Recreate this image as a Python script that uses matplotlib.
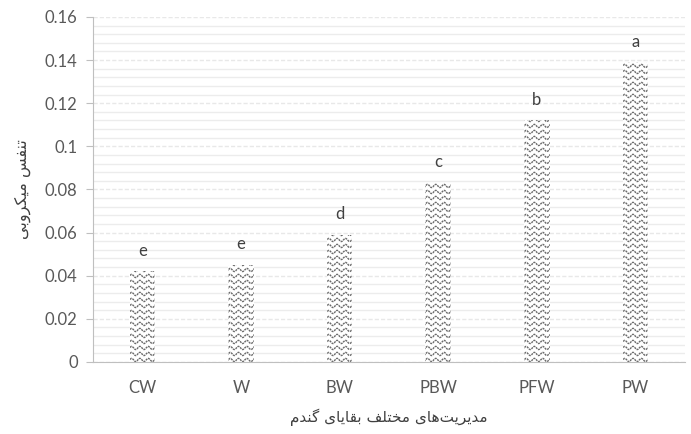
import numpy as np
import matplotlib.pyplot as plt
from matplotlib.ticker import MultipleLocator

# treatments and mean respiration values
treatments = ['CW', 'W', 'BW', 'PBW', 'PFW', 'PW']
respiration = [0.042, 0.045, 0.059, 0.083, 0.112, 0.139]
groups = ['e', 'e', 'd', 'c', 'b', 'a']

ylabel_fa = 'تنفس میکروبی'
xlabel_fa = 'مدیریت\u200cهای مختلف بقایای گندم'

# minimal persian shaping (matplotlib has no complex text layout)
FORMS = {
    'ا': ('\uFE8D', '\uFE8E', None, None),
    'ب': ('\uFE8F', '\uFE90', '\uFE91', '\uFE92'),
    'ت': ('\uFE95', '\uFE96', '\uFE97', '\uFE98'),
    'خ': ('\uFEA5', '\uFEA6', '\uFEA7', '\uFEA8'),
    'د': ('\uFEA9', '\uFEAA', None, None),
    'ر': ('\uFEAD', '\uFEAE', None, None),
    'س': ('\uFEB1', '\uFEB2', '\uFEB3', '\uFEB4'),
    'ف': ('\uFED1', '\uFED2', '\uFED3', '\uFED4'),
    'ق': ('\uFED5', '\uFED6', '\uFED7', '\uFED8'),
    'ل': ('\uFEDD', '\uFEDE', '\uFEDF', '\uFEE0'),
    'م': ('\uFEE1', '\uFEE2', '\uFEE3', '\uFEE4'),
    'ن': ('\uFEE5', '\uFEE6', '\uFEE7', '\uFEE8'),
    'ه': ('\uFEE9', '\uFEEA', '\uFEEB', '\uFEEC'),
    'و': ('\uFEED', '\uFEEE', None, None),
    'ی': ('\uFBFC', '\uFBFD', '\uFBFE', '\uFBFF'),
    'ک': ('\uFB8E', '\uFB8F', '\uFB90', '\uFB91'),
    'گ': ('\uFB92', '\uFB93', '\uFB94', '\uFB95'),
}


def shape(text):
    out = []
    chars = list(text)
    for i, ch in enumerate(chars):
        if ch not in FORMS:
            if ch != '\u200c':
                out.append(ch)
            continue
        prev = chars[i - 1] if i > 0 else None
        nxt = chars[i + 1] if i + 1 < len(chars) else None
        join_prev = prev in FORMS and FORMS[prev][2] is not None
        join_next = nxt in FORMS and FORMS[ch][2] is not None
        iso, fin, ini, med = FORMS[ch]
        if join_prev and join_next:
            out.append(med)
        elif join_prev:
            out.append(fin)
        elif join_next:
            out.append(ini)
        else:
            out.append(iso)
    return ''.join(reversed(out))


plt.rcParams['font.family'] = ['Lato', 'DejaVu Sans']

fig = plt.figure(figsize=(6.91, 4.34), dpi=100)
ax = fig.add_axes([0.1346, 0.166, 0.8564, 0.795])

x = np.arange(len(treatments))
bars = ax.bar(x, respiration, width=0.26, color='white', edgecolor='none', zorder=2)

ax.set_xlim(-0.5, 5.5)
ax.set_ylim(0, 0.16)
ax.yaxis.set_major_locator(MultipleLocator(0.02))
ax.yaxis.set_minor_locator(MultipleLocator(0.004))
ax.grid(axis='y', which='major', color='#e8e8e8', lw=1.0, ls=(0, (3, 1.5)), zorder=0)
ax.grid(axis='y', which='minor', color='#ececec', lw=1.0, zorder=0)

# wavy pattern fill inside each bar
fig.canvas.draw()
to_data = ax.transData.inverted()
for b in bars:
    (x0, y0), (x1, y1) = ax.transData.transform([(b.get_x(), 0), (b.get_x() + b.get_width(), b.get_height())])
    px = np.linspace(x0 - 4, x1 + 4, 200)
    for py in np.arange(y0 + 2, y1 + 4, 6.0):
        py_line = py + 1.6 * np.sin(2 * np.pi * (px - x0) / 8.3)
        pts = to_data.transform(np.column_stack([px, py_line]))
        ln, = ax.plot(pts[:, 0], pts[:, 1], color='#6a6a6a', lw=1.0,
                      ls=(0, (1.5, 0.6)), zorder=3)
        ln.set_clip_path(b)

for xi, v, g in zip(x, respiration, groups):
    ax.annotate(g, (xi, v), xytext=(0, 9), textcoords='offset points',
                ha='center', va='bottom', fontsize=12, color='#404040')

for s in ['top', 'right']:
    ax.spines[s].set_visible(False)
ax.spines['left'].set_color('#bfbfbf')
ax.spines['bottom'].set_color('#bfbfbf')
ax.spines['bottom'].set_zorder(4)
ax.tick_params(axis='y', which='major', length=5, color='#bfbfbf', labelsize=12, labelcolor='#595959', pad=6)
ax.tick_params(axis='y', which='minor', length=0)
ax.tick_params(axis='x', length=0, labelsize=12, labelcolor='#595959', pad=13)
ax.set_xticks(x)
ax.set_xticklabels(treatments)
ax.set_yticks(np.arange(0, 0.161, 0.02))
ax.set_yticklabels(['0', '0.02', '0.04', '0.06', '0.08', '0.1', '0.12', '0.14', '0.16'])

ax.set_ylabel(shape(ylabel_fa), fontsize=11.5, color='#404040', family='DejaVu Sans', labelpad=10)
ax.set_xlabel(shape(xlabel_fa), fontsize=11, color='#404040', family='DejaVu Sans', labelpad=9)

fig.savefig('out.png', dpi=100)
